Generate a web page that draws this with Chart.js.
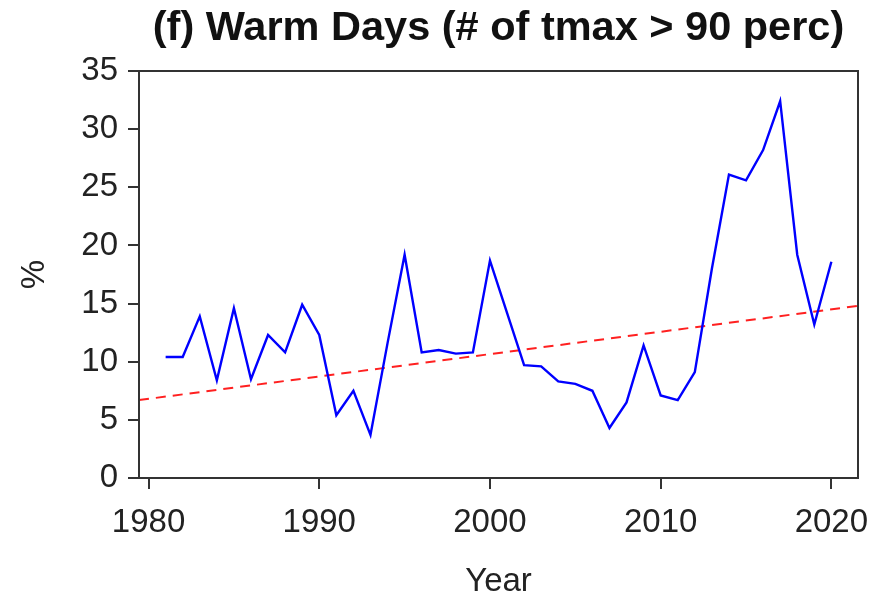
<!DOCTYPE html>
<html>
<head>
<meta charset="utf-8">
<script src="https://cdn.jsdelivr.net/npm/chart.js@4/dist/chart.umd.min.js"></script>
<style>
  html, body { margin: 0; padding: 0; background: #fff; }
  #wrap { width: 874px; height: 598px; }
</style>
</head>
<body>
<div id="wrap"><canvas id="chart"></canvas></div>
<script>
'use strict';

const titleText = '(f) Warm Days (# of tmax > 90 perc)';
const years = [1981, 1982, 1983, 1984, 1985, 1986, 1987, 1988, 1989, 1990,
               1991, 1992, 1993, 1994, 1995, 1996, 1997, 1998, 1999, 2000,
               2001, 2002, 2003, 2004, 2005, 2006, 2007, 2008, 2009, 2010,
               2011, 2012, 2013, 2014, 2015, 2016, 2017, 2018, 2019, 2020];
const warmDays = [10.4, 10.4, 13.9, 8.4, 14.6, 8.5, 12.3, 10.8, 14.9, 12.3,
                  5.4, 7.5, 3.7, 11.6, 19.2, 10.8, 11.0, 10.7, 10.8, 18.7,
                  14.2, 9.7, 9.6, 8.3, 8.1, 7.5, 4.3, 6.5, 11.4, 7.1,
                  6.7, 9.1, 18.0, 26.1, 25.6, 28.2, 32.4, 19.2, 13.2, 18.6];
// trend line end points (at the edges of the plot)
const trendYears = [1979.44, 2021.56];
const trendValues = [6.7, 14.8];
const xTicks = [1980, 1990, 2000, 2010, 2020];
const yTicks = [0, 5, 10, 15, 20, 25, 30, 35];

const axisColor = '#333';
const textColor = '#222';
const fontFamily = '"Liberation Sans", Arial, Helvetica, sans-serif';

var toPoints = (xs, ys) => xs.map((x, i) => ({x: x, y: ys[i]}));

// box round the plot and the title centred over it
const framePlugin = {
  id: 'frame',
  afterDraw: (chart) => {
    const a = chart.chartArea, ctx = chart.ctx;
    ctx.save();
    ctx.strokeStyle = axisColor;
    ctx.lineWidth = 2;
    ctx.strokeRect(a.left, a.top, a.right - a.left, a.bottom - a.top);
    ctx.fillStyle = '#111';
    ctx.font = 'bold 41.5px ' + fontFamily;
    ctx.textAlign = 'center';
    ctx.textBaseline = 'middle';
    ctx.fillText(titleText, (a.left + a.right) / 2, 29);
    ctx.restore();
  }
};

var config = {
  type: 'scatter',
  data: {
    datasets: [{
      data: toPoints(years, warmDays),
      showLine: true,
      borderColor: '#0000ff',
      borderWidth: 2.4,
      pointRadius: 0,
      tension: 0
    }, {
      data: toPoints(trendYears, trendValues),
      showLine: true,
      borderColor: '#ff2020',
      borderWidth: 2,
      borderDash: [10, 7],
      pointRadius: 0
    }]
  },
  options: {
    responsive: true,
    maintainAspectRatio: false,
    animation: false,
    layout: { padding: { top: 71, right: 16, bottom: 0, left: 0 } },
    plugins: {
      legend: { display: false },
      tooltip: { enabled: false }
    },
    scales: {
      x: {
        type: 'linear',
        min: 1979.44,
        max: 2021.56,
        afterBuildTicks: (s) => { s.ticks = xTicks.map(v => ({value: v})); },
        afterFit: (s) => { s.height = 120; s.paddingRight = 0; s.paddingLeft = 0; },
        grid: { drawOnChartArea: false, drawTicks: true, tickLength: 11, color: axisColor, lineWidth: 2 },
        border: { display: true, color: axisColor, width: 2 },
        ticks: { color: textColor, font: { family: fontFamily, size: 33 }, padding: 14, maxRotation: 0,
                 callback: (v) => String(v) },
        title: { display: true, text: 'Year', color: textColor, font: { family: fontFamily, size: 33, lineHeight: 1 }, padding: { top: 0, bottom: 0 } }
      },
      y: {
        min: 0,
        max: 35,
        afterBuildTicks: (s) => { s.ticks = yTicks.map(v => ({value: v})); },
        afterFit: (s) => { s.width = 139; },
        grid: { drawOnChartArea: false, drawTicks: true, tickLength: 11, color: axisColor, lineWidth: 2 },
        border: { display: true, color: axisColor, width: 2 },
        ticks: { color: textColor, font: { family: fontFamily, size: 33 }, padding: 10 },
        title: { display: true, text: '%', color: textColor, font: { family: fontFamily, size: 33, lineHeight: 1 }, padding: { top: 18, bottom: 0 } }
      }
    }
  },
  plugins: [framePlugin]
};

window.onload = function() {
  var ctx = document.getElementById('chart').getContext('2d');
  window.warmChart = new Chart(ctx, config);
};
</script>
</body>
</html>
